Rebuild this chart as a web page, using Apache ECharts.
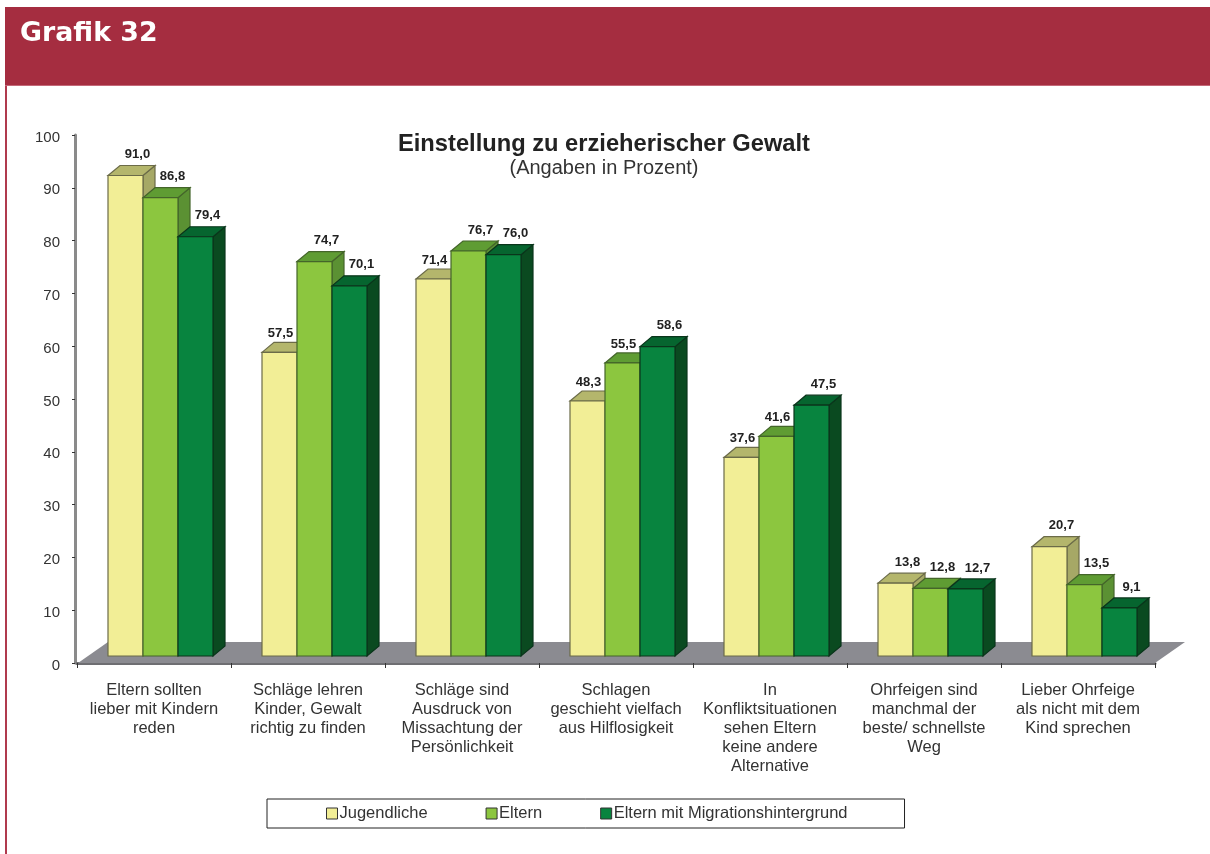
<!DOCTYPE html>
<html><head><meta charset="utf-8">
<style>html,body{margin:0;padding:0;background:#fff}#c{width:1210px;height:854px}</style>
<script src="https://cdn.jsdelivr.net/npm/echarts@6/dist/echarts.min.js"></script>
</head><body><div id="c"></div>
<script>
const categories = [
  "Eltern sollten\nlieber mit Kindern\nreden",
  "Schläge lehren\nKinder, Gewalt\nrichtig zu finden",
  "Schläge sind\nAusdruck von\nMissachtung der\nPersönlichkeit",
  "Schlagen\ngeschieht vielfach\naus Hilflosigkeit",
  "In\nKonfliktsituationen\nsehen Eltern\nkeine andere\nAlternative",
  "Ohrfeigen sind\nmanchmal der\nbeste/ schnellste\nWeg",
  "Lieber Ohrfeige\nals nicht mit dem\nKind sprechen"
];
const jugendliche = [91.0, 57.5, 71.4, 48.3, 37.6, 13.8, 20.7];
const eltern = [86.8, 74.7, 76.7, 55.5, 41.6, 12.8, 13.5];
const migration = [79.4, 70.1, 76.0, 58.6, 47.5, 12.7, 9.1];
const seriesNames = ["Jugendliche", "Eltern", "Eltern mit Migrationshintergrund"];
const yTicks = {min: 0, max: 100, interval: 10};
const FONT = '"Liberation Sans", Arial, sans-serif';
const palettes = [
  {front:'#f2ee96', top:'#b4b66c', side:'#a6a866', edge:'#6b6b48'},
  {front:'#8cc63f', top:'#5f9c33', side:'#5b9133', edge:'#44652a'},
  {front:'#08843f', top:'#06652f', side:'#0a4a20', edge:'#0a351b'}
];
const BAR_W = 35, DX = 12, DY = 10, LIFT = 7, SHIFT = 6.5;
const seriesValues = [jugendliche, eltern, migration];

function barRenderer(idx){
  const p = palettes[idx];
  return function(params, api){
    const i = api.value(0), v = api.value(1);
    const pt = api.coord([i, v]), base0 = api.coord([i, 0]);
    const l = pt[0] + SHIFT - BAR_W*1.5 + idx*BAR_W, r = l + BAR_W;
    const t = pt[1] - LIFT, b = base0[1] - LIFT;
    const stroke = {stroke:p.edge, lineWidth:1.2};
    const z2 = idx*10;
    // a label is nudged to the left when the next bar of the group is taller
    const nextValues = seriesValues[idx+1];
    const blocked = nextValues && nextValues[i] > v;
    const lx = (l+r)/2 + DX + (blocked ? -11 : 0);
    const ly = t - DY - 11 + (blocked ? 2 : 0);
    return {type:'group', children:[
      {type:'polygon', z2:z2, shape:{points:[[r,t],[r+DX,t-DY],[r+DX,b-DY],[r,b]]}, style:Object.assign({fill:p.side},stroke)},
      {type:'polygon', z2:z2+1, shape:{points:[[l,t],[l+DX,t-DY],[r+DX,t-DY],[r,t]]}, style:Object.assign({fill:p.top},stroke)},
      {type:'rect', z2:z2+2, shape:{x:l,y:t,width:BAR_W,height:b-t}, style:Object.assign({fill:p.front},stroke)},
      {type:'text', z2:100, style:{x:lx, y:ly, text:v.toFixed(1).replace('.',','),
        textAlign:'center', textVerticalAlign:'middle', fill:'#222', font:'bold 13px '+FONT}}
    ]};
  };
}
function floorRenderer(params){
  const c = params.coordSys, y = c.y + c.height, x = c.x;
  return {type:'polygon', shape:{points:[[x+1,y],[x+31,y-21],[x+c.width+30,y-21],[x+c.width,y]]},
    style:{fill:'#8b8b91'}};
}
const chart = echarts.init(document.getElementById('c'), null, {renderer:'canvas', width:1210, height:854});
chart.setOption({
  animation:false,
  backgroundColor:'#fff',
  textStyle:{fontFamily:FONT},
  graphic:[
    {type:'rect', z:0, shape:{x:5,y:85,width:2,height:769}, style:{fill:'#b03a4e'}},
    {type:'rect', z:0, shape:{x:5,y:7,width:1205,height:78}, style:{fill:'#a52d40'}},
    {type:'rect', z:0, shape:{x:5,y:85,width:1205,height:1}, style:{fill:'#c46878'}},
    {type:'text', z:1, style:{x:20,y:34,text:'Grafik 32',fill:'#fff',textVerticalAlign:'middle',
      font:'bold 26.8px "DejaVu Sans", sans-serif'}}
  ],
  title:{
    text:'Einstellung zu erzieherischer Gewalt',
    subtext:'(Angaben in Prozent)',
    left:604, top:131, textAlign:'center', itemGap:0, padding:0,
    textStyle:{fontFamily:FONT,fontSize:23.7,fontWeight:'bold',color:'#222',lineHeight:26},
    subtextStyle:{fontFamily:FONT,fontSize:20,color:'#333',lineHeight:22}
  },
  legend:{
    data:seriesNames, left:267, top:799,
    padding:[6,57,6,59], itemWidth:11, itemHeight:11, itemGap:58,
    backgroundColor:'#fff', borderColor:'#222', borderWidth:1,
    itemStyle:{borderColor:'#333',borderWidth:1},
    textStyle:{fontFamily:FONT,fontSize:16.5,color:'#333',padding:[0,0,0,-3]},
    icon:'rect', selectedMode:false
  },
  grid:{left:77, right:55, top:135, bottom:191, containLabel:false},
  xAxis:{
    type:'category', data:categories,
    axisLine:{lineStyle:{color:'#6e6e72',width:3}},
    axisTick:{show:true,length:5,lineStyle:{color:'#333',width:1}},
    axisLabel:{interval:0,margin:18,fontFamily:FONT,fontSize:16.5,lineHeight:19,color:'#333',align:'center',verticalAlign:'top'},
    splitLine:{show:false}
  },
  yAxis:{
    type:'value', min:yTicks.min, max:yTicks.max, interval:yTicks.interval, offset:2,
    axisLine:{show:true,lineStyle:{color:'#8a8a8a',width:3}},
    axisTick:{show:true,length:3,lineStyle:{color:'#333',width:1}},
    axisLabel:{margin:15,fontFamily:FONT,fontSize:15,color:'#333',verticalAlign:'top',padding:[-5,0,0,0]},
    splitLine:{show:false}
  },
  series:[
    {type:'custom', name:'Boden', silent:true, z:1, data:[[0,0]], encode:{x:0,y:1}, renderItem:floorRenderer, clip:false, tooltip:{show:false}},
    ...seriesNames.map((name,k)=>({
      type:'custom', name, z:2, clip:false,
      itemStyle:{color:palettes[k].front},
      data:seriesValues[k].map((v,i)=>[i,v]),
      encode:{x:0,y:1},
      renderItem:barRenderer(k)
    }))
  ]
});
</script></body></html>
